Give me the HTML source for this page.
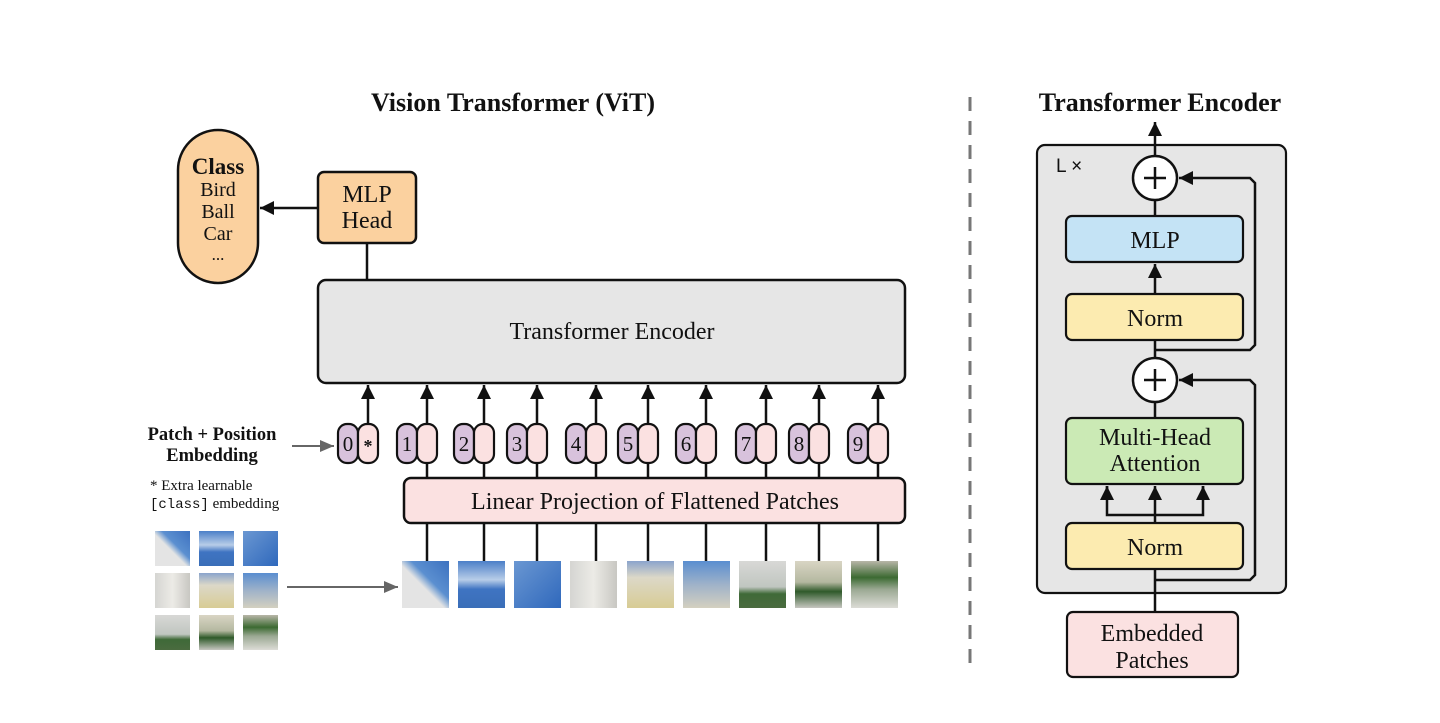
<!DOCTYPE html>
<html><head><meta charset="utf-8"><style>
html,body{margin:0;padding:0;background:#fff;}
svg{display:block;}
text{font-family:"Liberation Serif",serif;fill:#111;}
</style></head><body>
<svg width="1440" height="723" viewBox="0 0 1440 723" xmlns="http://www.w3.org/2000/svg">
<defs>
<marker id="ahs" markerWidth="14" markerHeight="14" refX="14" refY="7" orient="auto" markerUnits="userSpaceOnUse">
<path d="M0,0 L14,7 L0,14 z" fill="#111"/></marker>
<marker id="ahg" markerWidth="14" markerHeight="12" refX="14" refY="6" orient="auto" markerUnits="userSpaceOnUse">
<path d="M0,0 L14,6 L0,12 z" fill="#666"/></marker>
<linearGradient id="p1" x1="0" y1="1" x2="1" y2="0"><stop offset="0.45" stop-color="#e4e4e4"/><stop offset="0.6" stop-color="#5b8fd0"/><stop offset="1" stop-color="#3d72c0"/></linearGradient>
<linearGradient id="p2" x1="0" y1="0" x2="0" y2="1"><stop offset="0" stop-color="#4b7fc8"/><stop offset="0.4" stop-color="#b8cde8"/><stop offset="0.6" stop-color="#3f74c2"/><stop offset="1" stop-color="#3a6eb8"/></linearGradient>
<linearGradient id="p3" x1="0" y1="0" x2="1" y2="1"><stop offset="0" stop-color="#6a97d2"/><stop offset="1" stop-color="#2f68bc"/></linearGradient>
<linearGradient id="p4" x1="0" y1="0" x2="1" y2="0"><stop offset="0" stop-color="#d5d5d2"/><stop offset="0.5" stop-color="#ecebe6"/><stop offset="1" stop-color="#c8c7c2"/></linearGradient>
<linearGradient id="p5" x1="0" y1="0" x2="0" y2="1"><stop offset="0" stop-color="#8aa4cc"/><stop offset="0.35" stop-color="#dcd8c8"/><stop offset="1" stop-color="#d8cc94"/></linearGradient>
<linearGradient id="p6" x1="0" y1="0" x2="0" y2="1"><stop offset="0" stop-color="#5a8ed0"/><stop offset="0.5" stop-color="#9fb2c9"/><stop offset="1" stop-color="#d4d0c0"/></linearGradient>
<linearGradient id="p7" x1="0" y1="0" x2="0" y2="1"><stop offset="0" stop-color="#d8d8d6"/><stop offset="0.55" stop-color="#c0c6c0"/><stop offset="0.7" stop-color="#3f6a38"/><stop offset="1" stop-color="#4a6b3f"/></linearGradient>
<linearGradient id="p8" x1="0" y1="0" x2="0" y2="1"><stop offset="0" stop-color="#d9d5c4"/><stop offset="0.45" stop-color="#b4b8a0"/><stop offset="0.65" stop-color="#2f5a2a"/><stop offset="1" stop-color="#c6c6c0"/></linearGradient>
<linearGradient id="p9" x1="0" y1="0" x2="0" y2="1"><stop offset="0" stop-color="#b8b6a8"/><stop offset="0.35" stop-color="#3c6a32"/><stop offset="0.6" stop-color="#9aa892"/><stop offset="1" stop-color="#dcdcd6"/></linearGradient>
</defs>

<text x="513" y="111" text-anchor="middle" font-size="26" font-weight="bold">Vision Transformer (ViT)</text>
<text x="1160" y="111" text-anchor="middle" font-size="26" font-weight="bold">Transformer Encoder</text>

<rect x="178" y="130" width="80" height="153" rx="40" fill="#fbd19f" stroke="#111" stroke-width="2.5"/>
<text x="218" y="174" text-anchor="middle" font-size="23" font-weight="bold">Class</text>
<text x="218" y="196" text-anchor="middle" font-size="20">Bird</text>
<text x="218" y="218" text-anchor="middle" font-size="20">Ball</text>
<text x="218" y="240" text-anchor="middle" font-size="20">Car</text>
<text x="218" y="260" text-anchor="middle" font-size="17">...</text>

<rect x="318" y="172" width="98" height="71" rx="6" fill="#fbd19f" stroke="#111" stroke-width="2.5"/>
<text x="367" y="202" text-anchor="middle" font-size="24">MLP</text>
<text x="367" y="228" text-anchor="middle" font-size="24">Head</text>
<line x1="318" y1="208" x2="260" y2="208" stroke="#111" stroke-width="2.5" marker-end="url(#ahs)"/>
<line x1="367" y1="243" x2="367" y2="280" stroke="#111" stroke-width="2.5"/>

<rect x="318" y="280" width="587" height="103" rx="8" fill="#e6e6e6" stroke="#111" stroke-width="2.5"/>
<text x="612" y="339" text-anchor="middle" font-size="24">Transformer Encoder</text>

<g stroke="#111" stroke-width="2.5">
<line x1="368" y1="423" x2="368" y2="385" marker-end="url(#ahs)"/>
<line x1="427" y1="523" x2="427" y2="385" marker-end="url(#ahs)"/>
<line x1="484" y1="523" x2="484" y2="385" marker-end="url(#ahs)"/>
<line x1="537" y1="523" x2="537" y2="385" marker-end="url(#ahs)"/>
<line x1="596" y1="523" x2="596" y2="385" marker-end="url(#ahs)"/>
<line x1="648" y1="523" x2="648" y2="385" marker-end="url(#ahs)"/>
<line x1="706" y1="523" x2="706" y2="385" marker-end="url(#ahs)"/>
<line x1="766" y1="523" x2="766" y2="385" marker-end="url(#ahs)"/>
<line x1="819" y1="523" x2="819" y2="385" marker-end="url(#ahs)"/>
<line x1="878" y1="523" x2="878" y2="385" marker-end="url(#ahs)"/>
<line x1="427" y1="523" x2="427" y2="561"/>
<line x1="484" y1="523" x2="484" y2="561"/>
<line x1="537" y1="523" x2="537" y2="561"/>
<line x1="596" y1="523" x2="596" y2="561"/>
<line x1="648" y1="523" x2="648" y2="561"/>
<line x1="706" y1="523" x2="706" y2="561"/>
<line x1="766" y1="523" x2="766" y2="561"/>
<line x1="819" y1="523" x2="819" y2="561"/>
<line x1="878" y1="523" x2="878" y2="561"/>
</g>
<g stroke="#111" stroke-width="2.2">
<rect x="338" y="424" width="20" height="39" rx="9" fill="#d8c2dc"/><rect x="358" y="424" width="20" height="39" rx="9" fill="#fbe1e1"/>
<rect x="397" y="424" width="20" height="39" rx="9" fill="#d8c2dc"/><rect x="417" y="424" width="20" height="39" rx="9" fill="#fbe1e1"/>
<rect x="454" y="424" width="20" height="39" rx="9" fill="#d8c2dc"/><rect x="474" y="424" width="20" height="39" rx="9" fill="#fbe1e1"/>
<rect x="507" y="424" width="20" height="39" rx="9" fill="#d8c2dc"/><rect x="527" y="424" width="20" height="39" rx="9" fill="#fbe1e1"/>
<rect x="566" y="424" width="20" height="39" rx="9" fill="#d8c2dc"/><rect x="586" y="424" width="20" height="39" rx="9" fill="#fbe1e1"/>
<rect x="618" y="424" width="20" height="39" rx="9" fill="#d8c2dc"/><rect x="638" y="424" width="20" height="39" rx="9" fill="#fbe1e1"/>
<rect x="676" y="424" width="20" height="39" rx="9" fill="#d8c2dc"/><rect x="696" y="424" width="20" height="39" rx="9" fill="#fbe1e1"/>
<rect x="736" y="424" width="20" height="39" rx="9" fill="#d8c2dc"/><rect x="756" y="424" width="20" height="39" rx="9" fill="#fbe1e1"/>
<rect x="789" y="424" width="20" height="39" rx="9" fill="#d8c2dc"/><rect x="809" y="424" width="20" height="39" rx="9" fill="#fbe1e1"/>
<rect x="848" y="424" width="20" height="39" rx="9" fill="#d8c2dc"/><rect x="868" y="424" width="20" height="39" rx="9" fill="#fbe1e1"/>
</g>
<g font-size="21" text-anchor="middle">
<text x="348" y="451">0</text><text x="368" y="452" font-size="18" font-weight="bold">*</text>
<text x="407" y="451">1</text><text x="464" y="451">2</text><text x="517" y="451">3</text>
<text x="576" y="451">4</text><text x="628" y="451">5</text><text x="686" y="451">6</text>
<text x="746" y="451">7</text><text x="799" y="451">8</text><text x="858" y="451">9</text>
</g>

<text x="212" y="440" text-anchor="middle" font-size="18.5" font-weight="bold">Patch + Position</text>
<text x="212" y="461" text-anchor="middle" font-size="18.5" font-weight="bold">Embedding</text>
<line x1="292" y1="446" x2="334" y2="446" stroke="#666" stroke-width="2" marker-end="url(#ahg)"/>
<text x="150" y="490" font-size="15">* Extra learnable</text>
<text x="150" y="508" font-size="15"><tspan font-family="Liberation Mono,monospace" font-size="14">[class]</tspan> embedding</text>

<rect x="404" y="478" width="501" height="45" rx="7" fill="#fbe1e1" stroke="#111" stroke-width="2.5"/>
<text x="655" y="509" text-anchor="middle" font-size="24">Linear Projection of Flattened Patches</text>

<rect x="402" y="561" width="47" height="47" fill="url(#p1)"/>
<rect x="458" y="561" width="47" height="47" fill="url(#p2)"/>
<rect x="514" y="561" width="47" height="47" fill="url(#p3)"/>
<rect x="570" y="561" width="47" height="47" fill="url(#p4)"/>
<rect x="627" y="561" width="47" height="47" fill="url(#p5)"/>
<rect x="683" y="561" width="47" height="47" fill="url(#p6)"/>
<rect x="739" y="561" width="47" height="47" fill="url(#p7)"/>
<rect x="795" y="561" width="47" height="47" fill="url(#p8)"/>
<rect x="851" y="561" width="47" height="47" fill="url(#p9)"/>

<rect x="155" y="531" width="35" height="35" fill="url(#p1)"/>
<rect x="199" y="531" width="35" height="35" fill="url(#p2)"/>
<rect x="243" y="531" width="35" height="35" fill="url(#p3)"/>
<rect x="155" y="573" width="35" height="35" fill="url(#p4)"/>
<rect x="199" y="573" width="35" height="35" fill="url(#p5)"/>
<rect x="243" y="573" width="35" height="35" fill="url(#p6)"/>
<rect x="155" y="615" width="35" height="35" fill="url(#p7)"/>
<rect x="199" y="615" width="35" height="35" fill="url(#p8)"/>
<rect x="243" y="615" width="35" height="35" fill="url(#p9)"/>
<line x1="287" y1="587" x2="398" y2="587" stroke="#666" stroke-width="2" marker-end="url(#ahg)"/>

<line x1="970" y1="97" x2="970" y2="670" stroke="#777" stroke-width="3" stroke-dasharray="14,10"/>

<rect x="1037" y="145" width="249" height="448" rx="8" fill="#e6e6e6" stroke="#111" stroke-width="2.2"/>
<text x="1056" y="172" font-size="19" style="font-family:'Liberation Sans',sans-serif">L ×</text>
<g stroke="#111" stroke-width="2.5" fill="none">
<line x1="1155" y1="156" x2="1155" y2="122" marker-end="url(#ahs)"/>
<line x1="1155" y1="216" x2="1155" y2="200"/>
<line x1="1155" y1="294" x2="1155" y2="264" marker-end="url(#ahs)"/>
<line x1="1155" y1="340" x2="1155" y2="358"/>
<polyline points="1155,350 1250,350 1255,345 1255,183 1250,178 1179,178" marker-end="url(#ahs)"/>
<line x1="1155" y1="402" x2="1155" y2="418"/>
<polyline points="1155,580 1250,580 1255,575 1255,385 1250,380 1179,380" marker-end="url(#ahs)"/>
<line x1="1155" y1="612" x2="1155" y2="569"/>
<line x1="1155" y1="523" x2="1155" y2="486" marker-end="url(#ahs)"/>
<polyline points="1107,486 1107,515 1203,515 1203,486"/>
<line x1="1107" y1="500" x2="1107" y2="486" marker-end="url(#ahs)"/>
<line x1="1203" y1="500" x2="1203" y2="486" marker-end="url(#ahs)"/>
</g>
<circle cx="1155" cy="178" r="22" fill="#fff" stroke="#111" stroke-width="2.5"/>
<path d="M1144,178 H1166 M1155,167 V189" stroke="#111" stroke-width="2.5"/>
<circle cx="1155" cy="380" r="22" fill="#fff" stroke="#111" stroke-width="2.5"/>
<path d="M1144,380 H1166 M1155,369 V391" stroke="#111" stroke-width="2.5"/>
<rect x="1066" y="216" width="177" height="46" rx="6" fill="#c4e3f5" stroke="#111" stroke-width="2.2"/>
<text x="1155" y="248" text-anchor="middle" font-size="24">MLP</text>
<rect x="1066" y="294" width="177" height="46" rx="6" fill="#fcebb0" stroke="#111" stroke-width="2.2"/>
<text x="1155" y="326" text-anchor="middle" font-size="24">Norm</text>
<rect x="1066" y="418" width="177" height="66" rx="6" fill="#cbeab5" stroke="#111" stroke-width="2.2"/>
<text x="1155" y="445" text-anchor="middle" font-size="24">Multi-Head</text>
<text x="1155" y="471" text-anchor="middle" font-size="24">Attention</text>
<rect x="1066" y="523" width="177" height="46" rx="6" fill="#fcebb0" stroke="#111" stroke-width="2.2"/>
<text x="1155" y="555" text-anchor="middle" font-size="24">Norm</text>
<rect x="1067" y="612" width="171" height="65" rx="6" fill="#fbe1e1" stroke="#111" stroke-width="2.2"/>
<text x="1152" y="641" text-anchor="middle" font-size="24">Embedded</text>
<text x="1152" y="668" text-anchor="middle" font-size="24">Patches</text>
</svg>
</body></html>
